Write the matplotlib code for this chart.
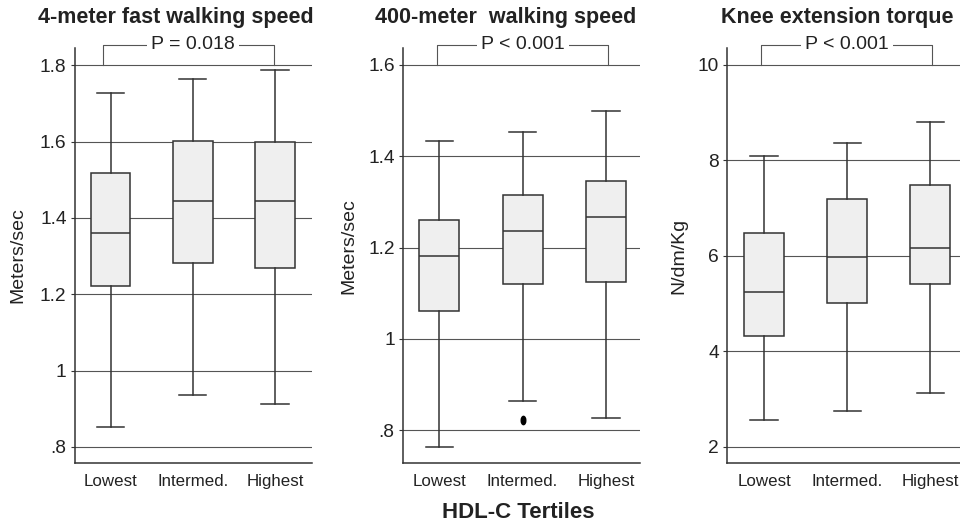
import matplotlib
matplotlib.use("Agg")
import matplotlib.pyplot as plt
from matplotlib.path import Path
from matplotlib.transforms import Affine2D

plt.rcParams['font.family'] = ['Liberation Sans', 'DejaVu Sans']

# tertile names
groups = ['Lowest', 'Intermed.', 'Highest']

# 4-meter fast walking speed (m/s)
walk4_whislo = [0.853, 0.937, 0.913]
walk4_q1 = [1.221, 1.283, 1.268]
walk4_med = [1.360, 1.444, 1.443]
walk4_q3 = [1.518, 1.602, 1.600]
walk4_whishi = [1.727, 1.765, 1.787]
walk4_fliers = [[], [], []]

# 400-meter walking speed (m/s)
walk400_whislo = [0.763, 0.863, 0.827]
walk400_q1 = [1.060, 1.121, 1.124]
walk400_med = [1.181, 1.236, 1.266]
walk400_q3 = [1.261, 1.316, 1.345]
walk400_whishi = [1.433, 1.454, 1.498]
walk400_fliers = [[], [0.823], []]

# knee extension torque (N/dm/Kg)
knee_whislo = [2.55, 2.75, 3.12]
knee_q1 = [4.33, 5.01, 5.41]
knee_med = [5.24, 5.97, 6.16]
knee_q3 = [6.47, 7.19, 7.49]
knee_whishi = [8.09, 8.37, 8.80]
knee_fliers = [[], [], []]

titles = ['4-meter fast walking speed', '400-meter  walking speed', 'Knee extension torque']
ylabels = ['Meters/sec', 'Meters/sec', 'N/dm/Kg']
pvalues = ['P = 0.018', 'P < 0.001', 'P < 0.001']
yticks = [[0.8, 1.0, 1.2, 1.4, 1.6, 1.8], [0.8, 1.0, 1.2, 1.4, 1.6], [2, 4, 6, 8, 10]]
yticklabels = [['.8', '1', '1.2', '1.4', '1.6', '1.8'], ['.8', '1', '1.2', '1.4', '1.6'],
               ['2', '4', '6', '8', '10']]
ylims = [(0.758, 1.845), (0.728, 1.637), (1.658, 10.356)]

series = [
    (walk4_whislo, walk4_q1, walk4_med, walk4_q3, walk4_whishi, walk4_fliers),
    (walk400_whislo, walk400_q1, walk400_med, walk400_q3, walk400_whishi, walk400_fliers),
    (knee_whislo, knee_q1, knee_med, knee_q3, knee_whishi, knee_fliers),
]

# layout (figure fractions)
lefts = [0.078, 0.4198, 0.7573]
rights = [0.325, 0.6667, 1.0]
xlims = [(0.566, 3.45), (0.564, 3.41), (0.555, 3.355)]
bracket_x = [(0.906, 2.986), (0.969, 3.03), (0.96, 3.02)]
title_x = [0.183, 0.527, 0.872]
ylabel_pos = [(-0.203, 0.5), (-0.194, 0.523), (-0.172, 0.5)]
bottom, top = 0.1214, 0.9089

edge = '#333333'
grid_c = '#555555'
txt = '#222222'

# narrow ellipse for the outlier dot
oval = Path.unit_circle().transformed(Affine2D().scale(0.55, 1.0))

fig = plt.figure(figsize=(9.6, 5.27), dpi=100)

for i in range(3):
    ax = fig.add_axes([lefts[i], bottom, rights[i] - lefts[i], top - bottom])
    lo, q1, med, q3, hi, fl = series[i]
    stats = []
    for k in range(3):
        stats.append(dict(label=groups[k], whislo=lo[k], q1=q1[k], med=med[k],
                          q3=q3[k], whishi=hi[k], fliers=fl[k]))
    ax.bxp(stats, positions=[1, 2, 3], widths=0.48, patch_artist=True,
           boxprops=dict(facecolor='#efefef', edgecolor=edge, linewidth=1.1),
           medianprops=dict(color=edge, linewidth=1.1),
           whiskerprops=dict(color=edge, linewidth=1.1),
           capprops=dict(color=edge, linewidth=1.1),
           capwidths=0.33,
           flierprops=dict(marker=oval, markersize=6, markerfacecolor='black',
                           markeredgecolor='black'))
    ax.set_xlim(*xlims[i])
    ax.set_ylim(*ylims[i])
    ax.set_yticks(yticks[i])
    ax.set_yticklabels(yticklabels[i])
    ax.set_xticks([1, 2, 3])
    ax.set_xticklabels(groups)
    ax.tick_params(axis='x', length=0, pad=8, labelsize=12.2, colors=txt)
    ax.tick_params(axis='y', length=3, width=0.8, pad=3, labelsize=13.8,
                   colors=txt, color=edge)
    for yv in yticks[i]:
        ax.axhline(yv, color=grid_c, linewidth=0.8, zorder=0)
    for s in ['top', 'right']:
        ax.spines[s].set_visible(False)
    for s in ['left', 'bottom']:
        ax.spines[s].set_color(edge)
        ax.spines[s].set_linewidth(1.1)
    ax.set_ylabel(ylabels[i], fontsize=14, color=txt)
    ax.yaxis.set_label_coords(*ylabel_pos[i])

    # significance bracket
    ylo, yhi = ylims[i]
    ytop = yhi + 0.008 * (yhi - ylo)
    yb = yticks[i][-1]
    x0, x1 = bracket_x[i]
    ax.plot([x0, x0, x1, x1], [yb, ytop, ytop, yb], color=grid_c, linewidth=0.8,
            clip_on=False)
    ax.text(2.0, ytop, pvalues[i], ha='center', va='center', fontsize=14, color=txt,
            bbox=dict(facecolor='white', edgecolor='none', pad=3), clip_on=False)

    fig.text(title_x[i], 0.966, titles[i], ha='center', va='center',
             fontsize=15.5, fontweight='bold', color=txt)

fig.text(0.54, 0.027, 'HDL-C Tertiles', ha='center', va='center',
         fontsize=16, fontweight='bold', color=txt)

fig.savefig('out.png', dpi=100)
